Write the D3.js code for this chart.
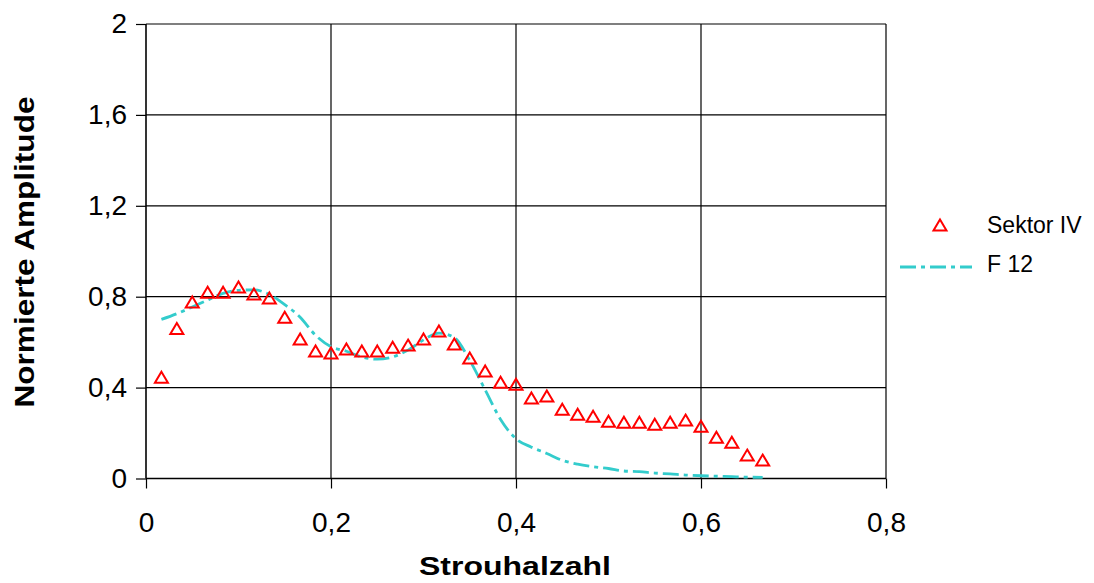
<!DOCTYPE html>
<html>
<head>
<meta charset="utf-8">
<script src="https://cdn.jsdelivr.net/npm/d3@7"></script>
<style>
  html, body { margin: 0; padding: 0; background: #fff; }
  svg { display: block; }
</style>
</head>
<body>
<svg id="chart" width="1094" height="583"></svg>
<script>
// ---- data ----
const strouhal = d3.range(1, 41).map(k => k / 60);
const sektorIV = [0.446, 0.66, 0.777, 0.82, 0.82, 0.843, 0.812, 0.794, 0.71, 0.614,
                  0.561, 0.552, 0.57, 0.561, 0.561, 0.578, 0.587, 0.614, 0.649, 0.592,
                  0.53, 0.473, 0.424, 0.415, 0.354, 0.363, 0.305, 0.283, 0.274, 0.252,
                  0.248, 0.248, 0.239, 0.248, 0.257, 0.23, 0.182, 0.16, 0.103, 0.081];
const f12 = [0.70, 0.725, 0.755, 0.785, 0.815, 0.828, 0.83, 0.81, 0.765, 0.71,
             0.63, 0.58, 0.56, 0.535, 0.525, 0.535, 0.565, 0.61, 0.64, 0.62,
             0.52, 0.39, 0.26, 0.175, 0.138, 0.11, 0.08, 0.063, 0.052, 0.044,
             0.033, 0.03, 0.024, 0.02, 0.015, 0.012, 0.01, 0.008, 0.006, 0.005];
const xTicks = [0, 0.2, 0.4, 0.6, 0.8];
const yTicks = [0, 0.4, 0.8, 1.2, 1.6, 2];
const seriesNames = ["Sektor IV", "F 12"];
const xTitle = "Strouhalzahl";
const yTitle = "Normierte Amplitude";

// ---- layout ----
const svg = d3.select("#chart");
const pLeft = 146, pRight = 886, pTop = 24, pBottom = 478.5;
const x = d3.scaleLinear().domain([0, 0.8]).range([pLeft, pRight]);
const y = d3.scaleLinear().domain([0, 2]).range([pBottom, pTop]);
const fmt = d => String(+d.toFixed(1)).replace(".", ",");
const font = "'Liberation Sans', Arial, sans-serif";
const red = "#FF0000", cyan = "#33CCCC";

// gridlines
svg.append("g").selectAll("line").data(xTicks.slice(1)).join("line")
  .attr("x1", d => x(d)).attr("x2", d => x(d)).attr("y1", pTop).attr("y2", pBottom)
  .attr("stroke", "#000").attr("stroke-width", 1.2);
svg.append("g").selectAll("line").data(yTicks.slice(1)).join("line")
  .attr("x1", pLeft).attr("x2", pRight).attr("y1", d => y(d)).attr("y2", d => y(d))
  .attr("stroke", "#000").attr("stroke-width", 1.2);

// axes
const xAxis = d3.axisBottom(x).tickValues(xTicks).tickSize(10).tickPadding(24).tickFormat(fmt);
const yAxis = d3.axisLeft(y).tickValues(yTicks).tickSize(10).tickPadding(9).tickFormat(fmt);
const gx = svg.append("g").attr("transform", `translate(0,${pBottom})`).call(xAxis);
const gy = svg.append("g").attr("transform", `translate(${pLeft},0)`).call(yAxis);
[gx, gy].forEach(g => {
  g.select(".domain").attr("stroke", "#000").attr("stroke-width", 1.6);
  g.selectAll(".tick line").attr("stroke", "#000").attr("stroke-width", 1.2);
  g.selectAll(".tick text").attr("fill", "#000")
    .style("font-family", font).style("font-size", "28px");
});
gy.select(".domain").attr("d", `M0,${pTop}V${pBottom}`);
gx.select(".domain").attr("d", `M${pLeft},0H${pRight}`);

// F 12 line
const line = d3.line().x((d, i) => x(strouhal[i])).y(d => y(d)).curve(d3.curveMonotoneX);
svg.append("path").datum(f12).attr("d", line)
  .attr("fill", "none").attr("stroke", cyan).attr("stroke-width", 2.8)
  .attr("stroke-dasharray", "16,5,4,5");

// Sektor IV triangles
const tri = (cx, cy) => `M${cx},${cy - 5.5}L${cx + 6.5},${cy + 5.5}L${cx - 6.5},${cy + 5.5}Z`;
svg.append("g").selectAll("path").data(sektorIV).join("path")
  .attr("d", (d, i) => tri(x(strouhal[i]), y(d)))
  .attr("fill", "none").attr("stroke", red).attr("stroke-width", 2);

// titles
svg.append("text").attr("x", 515).attr("y", 575).attr("text-anchor", "middle")
  .attr("textLength", 192).attr("lengthAdjust", "spacingAndGlyphs")
  .style("font-family", font).style("font-size", "26px").style("font-weight", "bold")
  .text(xTitle);
svg.append("text").attr("transform", "translate(34,252) rotate(-90)").attr("text-anchor", "middle")
  .attr("textLength", 311).attr("lengthAdjust", "spacingAndGlyphs")
  .style("font-family", font).style("font-size", "27px").style("font-weight", "bold")
  .text(yTitle);

// legend
const lg = svg.append("g");
lg.append("path").attr("d", tri(940, 225)).attr("fill", "none").attr("stroke", red).attr("stroke-width", 2);
lg.append("line").attr("x1", 900).attr("x2", 972).attr("y1", 267).attr("y2", 267)
  .attr("stroke", cyan).attr("stroke-width", 2.8).attr("stroke-dasharray", "16,5,4,5");
lg.selectAll("text").data(seriesNames).join("text")
  .attr("x", 987).attr("y", (d, i) => 233 + i * 39)
  .style("font-family", font).style("font-size", "23px").text(d => d);
</script>
</body>
</html>
